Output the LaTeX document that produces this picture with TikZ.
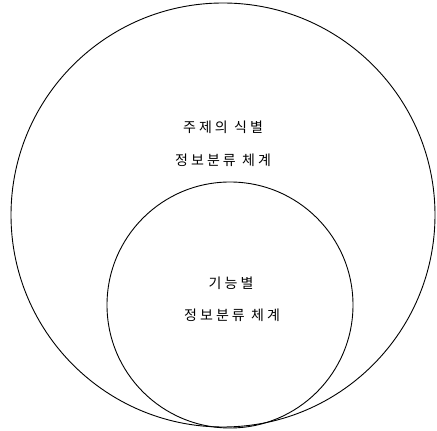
\documentclass[tikz,border=0pt]{standalone}
\usepackage{fontspec}
\newfontfamily\krfont[LetterSpace=22]{Noto Sans CJK KR}
\begin{document}
\begin{tikzpicture}[x=1pt,y=1pt,
  ring/.style={circle, draw, line width=0.9pt, inner sep=0pt},
  lbl/.style={font=\krfont\fontsize{14}{16}\selectfont, align=center}]
\useasboundingbox (0,0) rectangle (437,431);
\node[ring, minimum size=424pt] (outer) at (223,216) {};
\node[ring, minimum size=246pt] (inner) at (230,126) {};
\node[lbl] (t1a) at (223,304) {주제의 식별};
\node[lbl] (t1b) at (223,271) {정보분류 체계};
\node[lbl] (t2a) at (231,148) {기능별};
\node[lbl] (t2b) at (232,116) {정보분류 체계};
\end{tikzpicture}
\end{document}
